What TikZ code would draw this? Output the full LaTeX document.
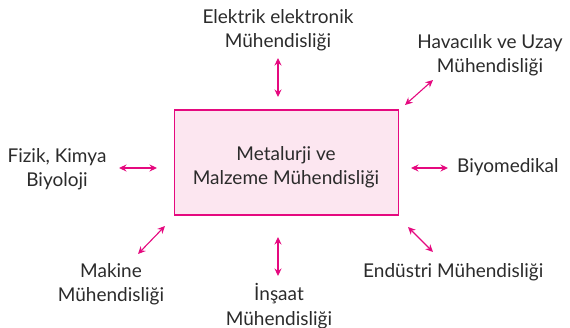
\documentclass[tikz,border=0pt]{standalone}
\usepackage{fontspec}
\setmainfont{Lato}
\usetikzlibrary{arrows.meta}
\definecolor{mag}{HTML}{E5097F}
\definecolor{boxfill}{HTML}{FCE6F0}
\definecolor{txt}{HTML}{2B2B2B}
\tikzset{
  lbl/.style={text=txt, font=\fontsize{19}{24.5}\selectfont, align=center, inner sep=0pt},
  link/.style={draw=mag, line width=1.1pt, {Stealth[length=7.5pt,width=7pt]}-{Stealth[length=7.5pt,width=7pt]}},
  mainbox/.style={draw=mag, fill=boxfill, line width=1.1pt, minimum width=224pt, minimum height=105pt, inner sep=0pt}
}
\begin{document}
\begin{tikzpicture}[x=1pt,y=-1pt]
\useasboundingbox (0,0) rectangle (570,328);
\node[mainbox] (m) at (286.5,162.5) {};
\node[lbl] (mt) at (286,167) {Metalurji ve\\Malzeme Mühendisliği};
\node[lbl] (ee) at (278,30) {Elektrik elektronik\\Mühendisliği};
\node[lbl] (hv) at (490,55) {Havacılık ve Uzay\\Mühendisliği};
\node[lbl] (fz) at (57,169) {Fizik, Kimya\\Biyoloji};
\node[lbl, anchor=west] (bm) at (457,167) {Biyomedikal};
\node[lbl] (mk) at (111,284) {Makine\\Mühendisliği};
\node[lbl] (in) at (279,306) {İnşaat\\Mühendisliği};
\node[lbl, anchor=west] (en) at (363,272) {Endüstri Mühendisliği};
% connector endpoints
\coordinate (a1) at (278,58); \coordinate (a2) at (278,97);
\coordinate (b1) at (405,105); \coordinate (b2) at (433,80);
\coordinate (c1) at (411,168); \coordinate (c2) at (448,168);
\coordinate (d1) at (408,227); \coordinate (d2) at (433,252);
\coordinate (e1) at (278,237); \coordinate (e2) at (278,276);
\coordinate (f1) at (165,226); \coordinate (f2) at (138,254);
\coordinate (g1) at (119,168); \coordinate (g2) at (157,168);
\draw[link] (a1) -- (a2);
\draw[link] (b1) -- (b2);
\draw[link] (c1) -- (c2);
\draw[link] (d1) -- (d2);
\draw[link] (e1) -- (e2);
\draw[link] (f1) -- (f2);
\draw[link] (g1) -- (g2);
\end{tikzpicture}
\end{document}
